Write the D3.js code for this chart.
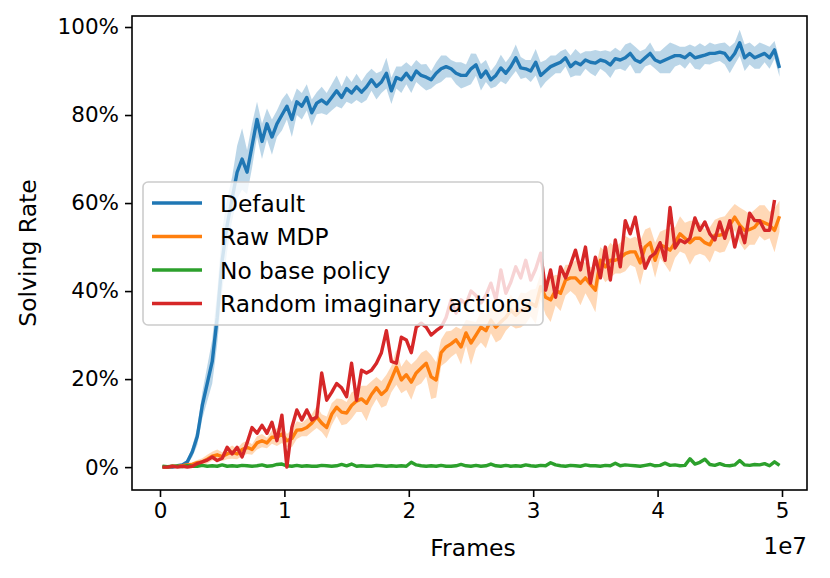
<!DOCTYPE html>
<html>
<head>
<meta charset="utf-8">
<script src="https://cdn.jsdelivr.net/npm/d3@7"></script>
<style>
  body { margin: 0; background: #fff; }
  text { font-family: "DejaVu Sans", sans-serif; }
</style>
</head>
<body>
<div id="chart"></div>
<script>
// frames: one sample every 4e5 frames
const step = 4e5;

const defaultMean = [
  0, 0, 0, 0.3, 0.5, 1.2, 3.5, 7, 14, 19,
  24, 34, 47, 55, 61, 67, 70, 67, 73, 79,
  74, 78, 75, 78, 80, 82, 79, 83, 82, 84,
  80.5, 82.7, 83.4, 82.5, 84, 85.5, 84, 86, 85, 86.4,
  85.2, 86.4, 88, 86.5, 87.5, 89.5, 85.5, 88.5, 88, 89.5,
  88, 90, 89, 88.6, 88, 89.5, 90.5, 91, 90.5, 89.5,
  89, 89, 90.5, 91.4, 88.6, 90, 88, 89, 90.7, 89.5,
  91, 93, 90.7, 90.5, 90, 92, 89, 90, 91, 91.5,
  92, 93, 91, 92, 91.4, 92.5, 92, 91.8, 92.5, 92.2,
  91.4, 92.8, 92.5, 93, 94, 92.5, 92, 93, 94, 92.5,
  92, 92.5, 93, 93.5, 93.5, 93, 94, 93, 93.3, 93.6,
  94, 94, 94.3, 94, 92.5, 94, 96.4, 93, 94, 93,
  93.5, 94, 93, 94.8, 90.7
];
const defaultSpread = [
  0.2, 0.2, 0.2, 0.3, 0.4, 0.6, 1.2, 2, 3, 4,
  5, 6, 7, 6, 5, 6, 7, 5, 5, 4,
  4, 3.5, 4, 3, 3.5, 3, 4, 3, 3, 3,
  3, 2.5, 3, 2.5, 3, 3.5, 2.5, 3, 2.5, 3,
  2.5, 3, 2.5, 3, 2.5, 3.5, 3, 2.5, 3, 2.5,
  3, 2.5, 2.5, 3, 2, 2.5, 3, 2.5, 2, 2.5,
  3, 2.5, 3.5, 2.5, 3, 2.5, 2, 2.5, 3, 2.5,
  2.5, 3, 2.5, 2, 2.5, 3, 3, 2.5, 2.5, 2,
  2.5, 2, 2.5, 3, 2.5, 2, 2.5, 3, 2, 2.5,
  3, 2.5, 2, 3, 2.5, 3, 2.5, 2, 2.5, 2,
  2.5, 3, 3.5, 2.5, 2, 2.5, 2, 2.5, 3, 2,
  2.5, 2, 2, 2.5, 3, 2.5, 3, 3, 2.5, 2.5,
  3, 2, 2.5, 2, 2
];

const rawMean = [
  0, 0, 0.2, 0.2, 0.3, 0.5, 0.6, 1, 1.2, 1.8,
  2.5, 2.8, 2.4, 3, 3.4, 3, 4, 4.5, 4, 5.5,
  6, 5.5, 6.8, 6.8, 7.5, 6, 6.5, 8.4, 8.5, 9,
  10, 11.4, 10, 9, 12, 13.6, 12.5, 12.3, 14, 15,
  15.5, 14.5, 16.5, 18, 16.5, 17.5, 20, 22.7, 19.8, 21,
  19.3, 21.4, 22.5, 23.6, 20.5, 19.8, 26, 27.3, 28, 28.9,
  27.3, 30.5, 28.2, 30, 31.8, 31, 33.4, 31.8, 33, 34,
  35.7, 34.5, 35.7, 36, 37.3, 36.5, 41, 38.6, 38, 40.2,
  39.5, 42.5, 43, 43, 41.8, 43, 41.5, 40.2, 47, 45.5,
  47, 47, 47.5, 48.5, 48.9, 48.9, 46.4, 50, 51, 47,
  50.5, 50, 49.3, 51, 53, 52, 51, 52, 52, 51,
  50.5, 52.7, 52.7, 53, 55, 56.8, 55, 53.8, 54, 54.5,
  56, 55.5, 55, 53.8, 57
];
const rawSpread = [
  0.2, 0.2, 0.3, 0.3, 0.4, 0.5, 0.5, 0.6, 0.8, 1,
  1, 1.2, 1, 1.2, 1.5, 1.2, 1.5, 1.5, 1.2, 1.5,
  1.5, 1.2, 1.5, 2, 2, 1.5, 2, 2, 1.5, 2,
  2, 2.5, 2, 2.5, 2.5, 2, 3, 2.5, 3, 2.5,
  3, 4, 3, 2.5, 3, 3.5, 3, 4, 3, 3.5,
  4, 3, 3.5, 3, 5, 4, 3, 3.5, 3, 3,
  4, 3, 5, 3, 3.5, 4, 3, 3.5, 4, 3,
  3.5, 3, 4, 3.5, 3, 4, 3, 4, 5, 3.5,
  4, 3.5, 3, 4, 5, 3.5, 4, 5, 3, 3.5,
  4, 3, 3.5, 4, 3, 3.5, 5, 4, 3.5, 4,
  3, 4, 5, 3.5, 4, 3.5, 5, 4, 3.5, 3,
  4, 3.5, 4, 4, 3.5, 3, 4, 4.5, 3.5, 4,
  3.5, 4, 3, 5, 3.5
];

const noBaseMean = [
  0.2, 0.1, 0.2, 0.2, 0.1, 0.3, 0.2, 0.2, 0.4, 0.2,
  0.3, 0.2, 0.5, 0.2, 0.3, 0.2, 0.4, 0.3, 0.2, 0.3,
  0.5, 0.2, 0.3, 0.6, 0.7, 0.3, 0.2, 0.4, 0.2, 0.3,
  0.2, 0.2, 0.4, 0.3, 0.2, 0.3, 0.6, 0.3, 0.7, 0.2,
  0.3, 0.2, 0.2, 0.4, 0.3, 0.2, 0.3, 0.2, 0.3, 0.2,
  1.1, 0.5, 0.3, 0.2, 0.3, 0.2, 0.4, 0.2, 0.2, 0.3,
  0.6, 0.3, 0.2, 0.4, 0.2, 0.3, 0.7, 0.3, 0.2, 0.4,
  0.2, 0.3, 0.2, 0.5, 0.3, 0.2, 0.4, 0.3, 1.0, 0.5,
  0.3, 0.2, 0.4, 0.3, 0.2, 0.5, 0.3, 0.3, 0.2, 0.4,
  0.3, 0.9, 0.3, 0.5, 0.4, 0.3, 0.2, 0.4, 0.6, 0.3,
  0.4, 0.9, 0.4, 0.5, 0.3, 0.4, 1.9, 0.7, 1.1, 1.8,
  0.6, 0.4, 0.8, 0.4, 0.3, 0.5, 1.5, 0.5, 0.4, 0.6,
  0.5, 0.8, 0.3, 1.2, 0.4
];

const randomMean = [
  0, 0, 0.2, 0, 0.2, 0, 0.2, 0.8, 1.2, 1.6,
  2.3, 1.5, 2, 4.5, 3, 4.5, 2.3, 5.5, 9, 7.7,
  9.5, 7.7, 10.2, 6, 11.8, 0, 9, 13, 10.7, 13,
  10.7, 11.4, 21.4, 15.2, 17, 19, 18, 16, 23.6, 15.2,
  22, 21.4, 22, 23.6, 26, 31, 24, 23.6, 29.5, 28.9,
  26, 31.8, 32.7, 31.8, 30, 31, 31.8, 34, 38, 35,
  38, 37, 40, 39, 37.3, 39, 41.8, 38, 44.8, 39.5,
  42, 45.5, 43, 47, 42.5, 45, 48.6, 40.2, 44.8, 38.6,
  45.5, 43, 46, 49.3, 44.8, 50, 41.8, 47.7, 43, 50,
  42.5, 51.6, 45.5, 56, 53, 56.8, 50.5, 45.2, 47.7, 48.6,
  51, 47, 59, 49.8, 51.6, 51, 52, 56.6, 53.8, 55.7,
  53, 51.6, 55.7, 52, 56, 50, 54.5, 51, 57.7, 56,
  56, 53.8, 53.8, 60.7
];

const xTicks = [0, 1e7, 2e7, 3e7, 4e7, 5e7];
const yTicks = [0, 20, 40, 60, 80, 100];

const series = [
  { name: "Default", color: "#1f77b4", mean: defaultMean, spread: defaultSpread },
  { name: "Raw MDP", color: "#ff7f0e", mean: rawMean, spread: rawSpread },
  { name: "No base policy", color: "#2ca02c", mean: noBaseMean, spread: noBaseMean.map(() => 0.2) },
  { name: "Random imaginary actions", color: "#d62728", mean: randomMean, spread: null }
];

const width = 830, height = 578;
const padL = 132, padR = 807, padT = 16, padB = 490;

const svg = d3.select("#chart").append("svg")
  .attr("width", width)
  .attr("height", height);

const x = d3.scaleLinear().domain([-0.225e7, 5.201e7]).range([padL, padR]);
const y = d3.scaleLinear().domain([-5.2, 102.5]).range([padB, padT]);

svg.append("defs").append("clipPath").attr("id", "clip")
  .append("rect").attr("x", padL).attr("y", padT)
  .attr("width", padR - padL).attr("height", padB - padT);

const plot = svg.append("g").attr("clip-path", "url(#clip)");

series.forEach(s => {
  const pts = s.mean.map((v, i) => ({
    f: (i + 1) * step - 2e5,
    v: v,
    sp: s.spread ? s.spread[i] : 0
  }));
  if (s.spread) {
    plot.append("path")
      .datum(pts)
      .attr("fill", s.color)
      .attr("fill-opacity", 0.3)
      .attr("d", d3.area()
        .x(d => x(d.f))
        .y0(d => y(d.v - d.sp))
        .y1(d => y(d.v + d.sp)));
  }
  plot.append("path")
    .datum(pts)
    .attr("fill", "none")
    .attr("stroke", s.color)
    .attr("stroke-width", 3.4)
    .attr("stroke-linejoin", "round")
    .attr("d", d3.line().x(d => x(d.f)).y(d => y(d.v)));
});

// axes
const xAxis = svg.append("g")
  .attr("transform", `translate(0,${padB})`)
  .call(d3.axisBottom(x).tickValues(xTicks).tickFormat(d => d / 1e7).tickSize(7).tickPadding(6));
const yAxis = svg.append("g")
  .attr("transform", `translate(${padL},0)`)
  .call(d3.axisLeft(y).tickValues(yTicks).tickFormat(d => d + "%").tickSize(7).tickPadding(6));

[xAxis, yAxis].forEach(a => {
  a.select(".domain").remove();
  a.selectAll(".tick line").attr("stroke", "#000").attr("stroke-width", 1.6);
  a.selectAll(".tick text")
    .attr("fill", "#000")
    .style("font-size", "21.5px")
    .style("font-family", "DejaVu Sans, sans-serif");
});

svg.append("rect")
  .attr("x", padL).attr("y", padT)
  .attr("width", padR - padL).attr("height", padB - padT)
  .attr("fill", "none").attr("stroke", "#000").attr("stroke-width", 1.6);

// labels
svg.append("text")
  .attr("x", 473).attr("y", 556)
  .attr("text-anchor", "middle")
  .style("font-size", "23.5px")
  .text("Frames");

svg.append("text")
  .attr("x", padR).attr("y", 554)
  .attr("text-anchor", "end")
  .style("font-size", "23px")
  .text("1e7");

svg.append("text")
  .attr("transform", `translate(36,${(padT + padB) / 2}) rotate(-90)`)
  .attr("text-anchor", "middle")
  .style("font-size", "23.5px")
  .text("Solving Rate");

// legend
const lg = svg.append("g").attr("transform", "translate(143,182)");
lg.append("rect")
  .attr("width", 400).attr("height", 143)
  .attr("rx", 5)
  .attr("fill", "#fff").attr("fill-opacity", 0.8)
  .attr("stroke", "#cccccc").attr("stroke-width", 1.6);

series.forEach((s, i) => {
  const yy = 21 + i * 33.5;
  lg.append("line")
    .attr("x1", 9).attr("x2", 59)
    .attr("y1", yy).attr("y2", yy)
    .attr("stroke", s.color).attr("stroke-width", 3.4);
  lg.append("text")
    .attr("x", 77).attr("y", yy + 8.5)
    .style("font-size", "23.3px")
    .text(s.name);
});
</script>
</body>
</html>
